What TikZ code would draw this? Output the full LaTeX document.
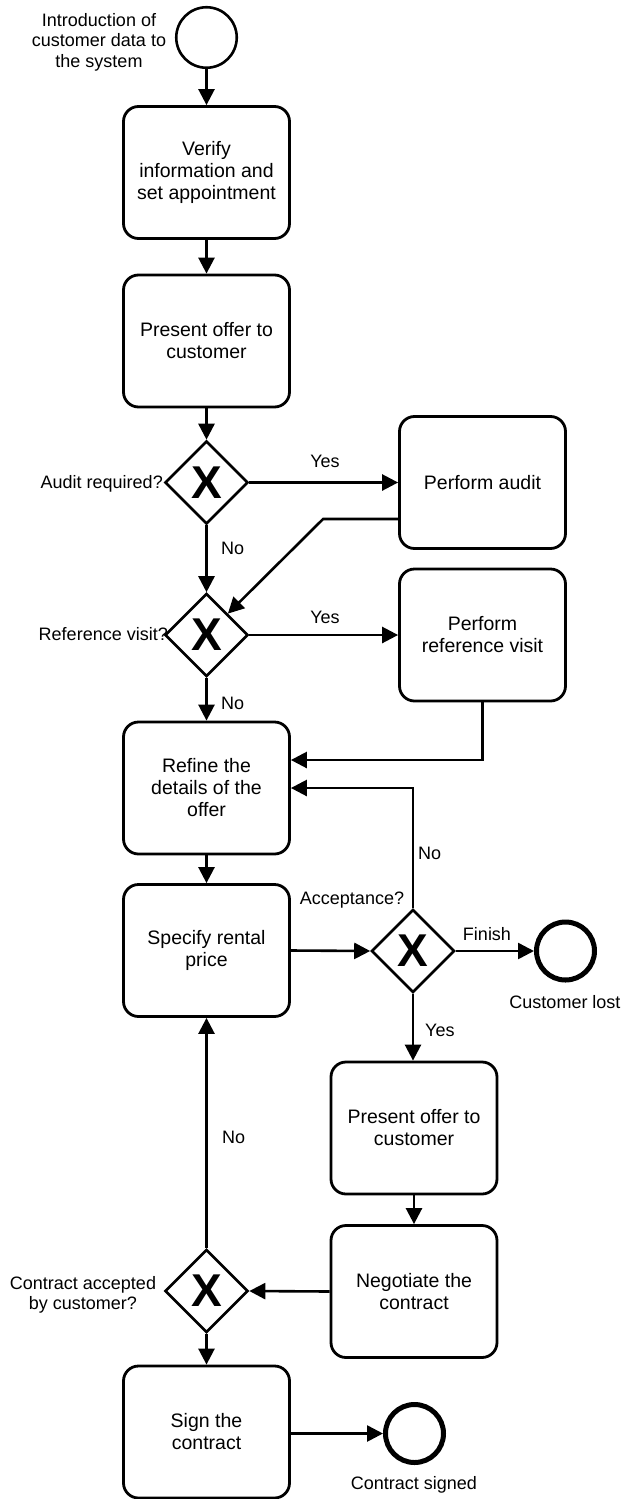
\documentclass[tikz,border=0pt]{standalone}
\usepackage{fontspec}
\setmainfont{Liberation Sans}
\usetikzlibrary{arrows.meta,shapes.geometric,calc}
\begin{document}
\begin{tikzpicture}[x=1pt,y=-1pt,
  task/.style={draw, rounded corners=15pt, line width=2.8pt, minimum width=166pt, minimum height=132pt, align=center, font=\fontsize{19.5}{22}\selectfont, inner sep=2pt},
  gate/.style={draw, diamond, line width=2.6pt, minimum width=83pt, minimum height=83pt, inner sep=0pt, font=\fontsize{46}{46}\bfseries\selectfont},
  startev/.style={draw, circle, line width=2.6pt, minimum size=60.5pt, inner sep=0pt},
  endev/.style={draw, circle, line width=5pt, minimum size=58pt, inner sep=0pt},
  lbl/.style={font=\fontsize{18}{20.5}\selectfont, inner sep=0pt, align=center},
  flow/.style={line width=2.6pt, -{Triangle[length=16pt,width=16pt]}}
]
\useasboundingbox (0,0) rectangle (625,1499);

% events
\node[startev] (start) at (206.5,37.5) {};
\node[lbl] (startlbl) at (99,42) {Introduction of\\customer data to\\the system};

% tasks and gateways
\node[task] (t1) at (206.5,172.5) {Verify\\information and\\set appointment};
\node[task] (t2) at (206.5,341) {Present offer to\\customer};
\node[gate] (g1) at (206.5,482.5) {X};
\node[lbl, anchor=east] (g1lbl) at (163,484) {Audit required?};
\node[task] (audit) at (482.5,482.5) {Perform audit};
\node[gate] (g2) at (206.5,635) {X};
\node[lbl, anchor=east] (g2lbl) at (168,634) {Reference visit?};
\node[task] (refv) at (482.5,635) {Perform\\reference visit};
\node[task] (refine) at (206.5,788) {Refine the\\details of the\\offer};
\node[task] (spec) at (206.5,950.5) {Specify rental\\price};
\node[gate] (g3) at (413,951) {X};
\node[lbl] (g3lbl) at (352,900) {Acceptance?};
\node[endev] (lost) at (565.5,951) {};
\node[lbl] (lostlbl) at (565,1002) {Customer lost};
\node[task] (pres2) at (414,1128) {Present offer to\\customer};
\node[task] (neg) at (414,1291.5) {Negotiate the\\contract};
\node[gate] (g4) at (206.5,1291) {X};
\node[lbl] (g4lbl) at (83,1295) {Contract accepted\\by customer?};
\node[task] (sign) at (206.5,1432) {Sign the\\contract};
\node[endev] (signed) at (414.5,1433.5) {};
\node[lbl] (signedlbl) at (414,1485) {Contract signed};

% connectors
\draw[flow] (start) -- (t1);
\draw[flow] (t1) -- (t2);
\draw[flow] (t2) -- (g1);
\draw[flow] (g1.east) -- (audit.west);
\node[lbl] (yes1) at (325,461) {Yes};
\draw[flow] (g1.south) -- (g2.north);
\node[lbl, anchor=west] (no1) at (221,548) {No};
\draw[flow] ([yshift=-36.5pt]audit.west) -- ++(-75,0) -- (g2.north east);
\draw[flow] (g2.east) -- (refv.west);
\node[lbl] (yes2) at (325,617) {Yes};
\draw[flow] (g2.south) -- (refine.north);
\node[lbl, anchor=west] (no2) at (221,703) {No};
\draw[flow] (refv.south) |- ([yshift=28pt]refine.east);
\draw[flow] (g3.north) |- (refine.east);
\node[lbl, anchor=west] (no3) at (418,853) {No};
\draw[flow] (refine) -- (spec);
\draw[flow] (spec.east) -- (g3.west);
\draw[flow] (g3.east) -- (lost.west);
\node[lbl] (finish) at (487,934) {Finish};
\draw[flow] (g3.south) -- (g3.south |- pres2.north);
\node[lbl, anchor=west] (yes3) at (425,1030) {Yes};
\draw[flow] (pres2) -- (neg);
\draw[flow] (neg.west) -- (g4.east);
\draw[flow] (g4.north) -- (g4.north |- spec.south);
\node[lbl, anchor=west] (no4) at (222,1137) {No};
\draw[flow] (g4.south) -- (g4.south |- sign.north);
\draw[flow] (sign.east |- signed.west) -- (signed.west);
\end{tikzpicture}
\end{document}
